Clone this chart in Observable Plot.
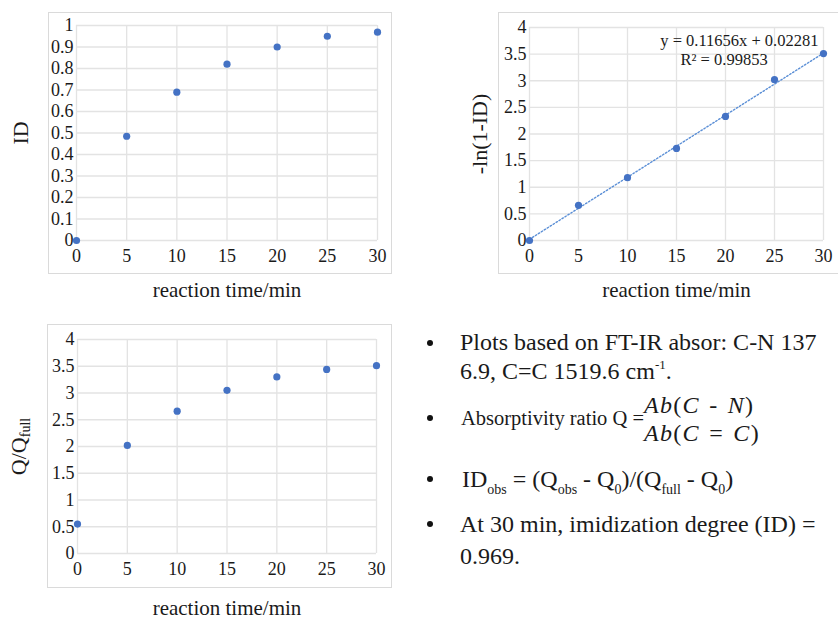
<!DOCTYPE html>
<html><head><meta charset="utf-8">
<script src="https://cdn.jsdelivr.net/npm/d3@7"></script>
<script src="https://cdn.jsdelivr.net/npm/@observablehq/plot@0.6"></script>
<style>
html,body{margin:0;padding:0;background:#fff;}
body{width:838px;height:619px;position:relative;overflow:hidden;font-family:"Liberation Serif","Times New Roman",serif;color:#1a1a1a;}
.frame{position:absolute;border:1.5px solid #dadada;box-sizing:border-box;}
.panel{position:absolute;}
.line{position:absolute;font-size:24px;line-height:24px;white-space:nowrap;}
.bullet{position:absolute;width:6px;height:6px;border-radius:50%;background:#111;}
.sub{font-size:14px;position:relative;top:7px;}
.sup{font-size:13px;position:relative;top:-10px;}
.frac{position:absolute;font-size:24px;line-height:24px;letter-spacing:1.3px;word-spacing:2px;white-space:nowrap;}
</style></head><body>
<div class="frame" style="left:48px;top:12px;width:344px;height:262px"></div>
<div class="frame" style="left:498px;top:12px;width:345px;height:262px"></div>
<div class="frame" style="left:47px;top:324px;width:345px;height:264px"></div>
<div id="p1" class="panel" style="left:0;top:0"></div>
<div id="p2" class="panel" style="left:460px;top:0"></div>
<div id="p3" class="panel" style="left:0;top:310px"></div>

<div class="bullet" style="left:427px;top:340px"></div>
<div class="line" style="left:460px;top:330px">Plots based on FT-IR absor: C-N 137</div>
<div class="line" style="left:460px;top:359px">6.9, C=C 1519.6 cm<span class="sup">-1</span>.</div>
<div class="bullet" style="left:427px;top:415px"></div>
<div class="line" style="left:461px;top:408px;font-size:20.5px;line-height:20px">Absorptivity ratio Q =</div>
<div class="frac" style="left:644px;top:393px"><i>Ab</i>(<i>C</i> - <i>N</i>)</div>
<div class="frac" style="left:644px;top:421px"><i>Ab</i>(<i>C</i> = <i>C</i>)</div>
<div class="bullet" style="left:427px;top:476px"></div>
<div class="line" style="left:462px;top:467px">ID<span class="sub">obs</span> = (Q<span class="sub">obs</span> - Q<span class="sub">0</span>)/(Q<span class="sub">full</span> - Q<span class="sub">0</span>)</div>
<div class="bullet" style="left:427px;top:521px"></div>
<div class="line" style="left:460px;top:512px">At 30 min, imidization degree (ID) =</div>
<div class="line" style="left:460px;top:544px">0.969.</div>

<script>
// ---- data ----
const times = [0, 5, 10, 15, 20, 25, 30];
const idValues = [0, 0.485, 0.69, 0.82, 0.90, 0.95, 0.969];
const lnValues = [0, 0.66, 1.18, 1.73, 2.33, 3.02, 3.51];
const qValues = [0.55, 2.02, 2.66, 3.05, 3.30, 3.44, 3.51];
const fitSlope = 0.11656;
const fitIntercept = 0.02281;
const fitR2 = 0.99853;
const xTicks = [0, 5, 10, 15, 20, 25, 30];
const idTicks = [0, 0.1, 0.2, 0.3, 0.4, 0.5, 0.6, 0.7, 0.8, 0.9, 1];
const halfTicks = [0, 0.5, 1, 1.5, 2, 2.5, 3, 3.5, 4];
const xTitle = "reaction time/min";
const idTitle = "ID";
const lnTitle = "-ln(1-ID)";
const qTitle = "Q/Qfull";
const eqLine1 = `y = ${fitSlope}x + ${fitIntercept}`;
const eqLine2 = `R\u00b2 = ${fitR2}`;

const DOT = "#4472c4";
const GRID = "#e3e3e3";

function rows(ys) { return times.map((t, i) => ({t, v: ys[i]})); }

function panel({width, height, mL, mR, mT, mB, yDomain, yTicks, yTitle, yTitleDx, xTitleDy, data, extra = []}) {
  return Plot.plot({
    width, height,
    marginLeft: mL, marginRight: mR, marginTop: mT, marginBottom: mB,
    style: {fontFamily: "'Liberation Serif', 'Times New Roman', serif", fontSize: "18px", color: "#1a1a1a", background: "transparent", overflow: "visible"},
    x: {domain: [0, 30]},
    y: {domain: yDomain},
    marks: [
      Plot.gridX(xTicks, {stroke: GRID, strokeOpacity: 1, strokeWidth: 1.3}),
      Plot.gridY(yTicks, {stroke: GRID, strokeOpacity: 1, strokeWidth: 1.3}),
      Plot.axisX(xTicks, {tickSize: 0, tickPadding: 9, label: null, tickFormat: d => String(d)}),
      Plot.axisY(yTicks, {tickSize: 0, tickPadding: 3, label: null, tickFormat: d => String(d)}),
      ...extra,
      Plot.dot(data, {x: "t", y: "v", r: 3.6, fill: DOT, stroke: null}),
      Plot.text([xTitle], {text: d => d, frameAnchor: "bottom", textAnchor: "middle", dy: xTitleDy, fontSize: 21}),
      Plot.text([yTitle], {text: d => d, frameAnchor: "left", textAnchor: "middle", lineAnchor: "middle", rotate: -90, dx: yTitleDx, fontSize: 22})
    ]
  });
}

const p1 = panel({width: 400, height: 300, mL: 76, mR: 23, mT: 25, mB: 60,
  yDomain: [0, 1], yTicks: idTicks, yTitle: idTitle, yTitleDx: -56, xTitleDy: 56, data: rows(idValues)});
document.getElementById("p1").appendChild(p1);

const fitLine = [0, 30].map(x => ({t: x, v: fitSlope * x + fitIntercept}));
const p2 = panel({width: 378, height: 300, mL: 69, mR: 15, mT: 27, mB: 60,
  yDomain: [0, 4], yTicks: halfTicks, yTitle: lnTitle, yTitleDx: -50, xTitleDy: 56, data: rows(lnValues),
  extra: [
    Plot.line(fitLine, {x: "t", y: "v", stroke: "#5b8fd6", strokeWidth: 1.4, strokeDasharray: "1.5,2"}),
    Plot.text([eqLine1], {text: d => d, frameAnchor: "top-right", dx: -5, dy: 13, textAnchor: "end", lineAnchor: "middle", fontSize: 16.5}),
    Plot.text([eqLine2], {text: d => d, frameAnchor: "top-right", dx: -143, dy: 32, textAnchor: "start", lineAnchor: "middle", fontSize: 16.5})
  ]});
document.getElementById("p2").appendChild(p2);

const p3 = panel({width: 400, height: 309, mL: 77, mR: 24, mT: 29, mB: 66,
  yDomain: [0, 4], yTicks: halfTicks, yTitle: qTitle, yTitleDx: -59, xTitleDy: 61, data: rows(qValues)});
document.getElementById("p3").appendChild(p3);

// subscript "full" in Q/Qfull
d3.select(p3).selectAll("text").filter(function() { return this.textContent === qTitle; })
  .each(function() {
    const t = d3.select(this);
    t.text(null);
    t.append("tspan").text("Q/Q");
    t.append("tspan").attr("font-size", 14).attr("dy", "0.35em").text("full");
  });
</script>
</body></html>
